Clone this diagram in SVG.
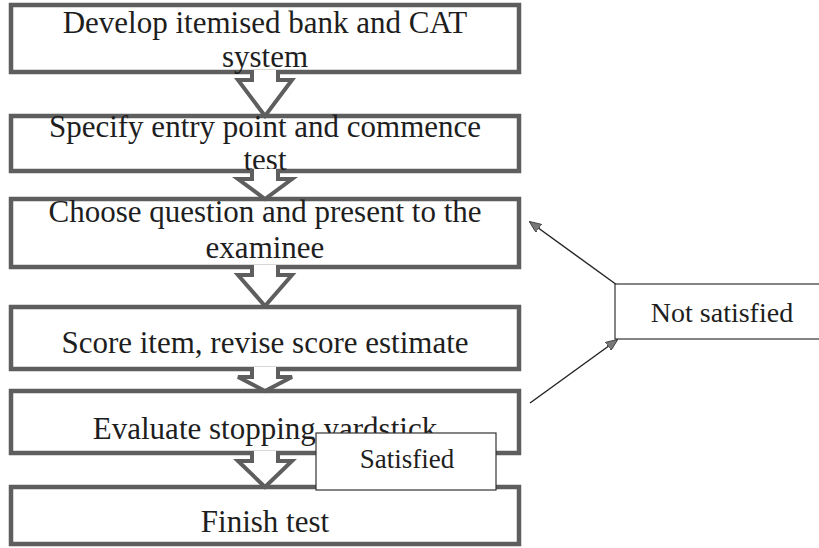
<svg xmlns="http://www.w3.org/2000/svg" width="819" height="548" viewBox="0 0 819 548">
<defs>
<style>
.box{fill:#fff;stroke:#5e5e5e;stroke-width:4.5}
.blk{fill:#fff;stroke:#5e5e5e;stroke-width:4;stroke-linejoin:miter}
.t{font-family:'Liberation Serif','DejaVu Serif',serif;font-size:31px;fill:#1e1e1e;text-anchor:middle}
.lbl{fill:#fff;stroke:#333;stroke-width:1.2}
.fb{stroke:#222;stroke-width:1.4;fill:none}
</style>
<marker id="ah" viewBox="0 0 12 10" refX="11" refY="5" markerWidth="12" markerHeight="10" markerUnits="userSpaceOnUse" orient="auto">
<path d="M0,0 L12,5 L0,10 Z" fill="#777" stroke="#333" stroke-width="0.8"/>
</marker>
</defs>
<g id="n1"><rect class="box" x="11" y="5" width="508" height="67"/>
<text class="t" x="265" y="33">Develop itemised bank and CAT</text>
<text class="t" x="265" y="67">system</text></g>
<g id="n2"><rect class="box" x="11" y="116" width="508" height="55"/>
<text class="t" x="265" y="137">Specify entry point and commence</text>
<text class="t" x="265" y="170">test</text></g>
<g id="n3"><rect class="box" x="11" y="199" width="508" height="68"/>
<text class="t" x="265" y="222">Choose question and present to the</text>
<text class="t" x="265" y="258">examinee</text></g>
<g id="n4"><rect class="box" x="11" y="307" width="508" height="62"/>
<text class="t" x="265" y="353">Score item, revise score estimate</text></g>
<g id="n5"><rect class="box" x="11" y="391" width="508" height="62"/>
<text class="t" x="265" y="439">Evaluate stopping yardstick</text></g>
<g id="n6"><rect class="box" x="11" y="487" width="508" height="57"/>
<text class="t" x="265" y="532">Finish test</text></g>
<g id="connectors">
<path class="blk" d="M252,70 V80 H238 L265,116 L292,80 H278 V70"/>
<path class="blk" d="M252,169 V179 H238 L265,199 L292,179 H278 V169"/>
<path class="blk" d="M252,265 V275 H238 L265,306 L292,275 H278 V265"/>
<path class="blk" d="M252,367 V377 H238 L265,391 L292,377 H278 V367"/>
<path class="blk" d="M252,451 V461 H238 L265,487 L292,461 H278 V451"/>
<line class="fb" x1="617" y1="285" x2="530" y2="222" marker-end="url(#ah)"/>
<line class="fb" x1="530" y1="403" x2="617" y2="340" marker-end="url(#ah)"/>
</g>
<g id="satisfied"><rect class="lbl" x="316" y="433" width="180" height="57"/>
<text class="t" x="407" y="468" style="font-size:27px">Satisfied</text></g>
<g id="notsatisfied"><rect class="lbl" x="615" y="284" width="210" height="55"/>
<text class="t" x="722" y="322" style="font-size:28px">Not satisfied</text></g>
</svg>
